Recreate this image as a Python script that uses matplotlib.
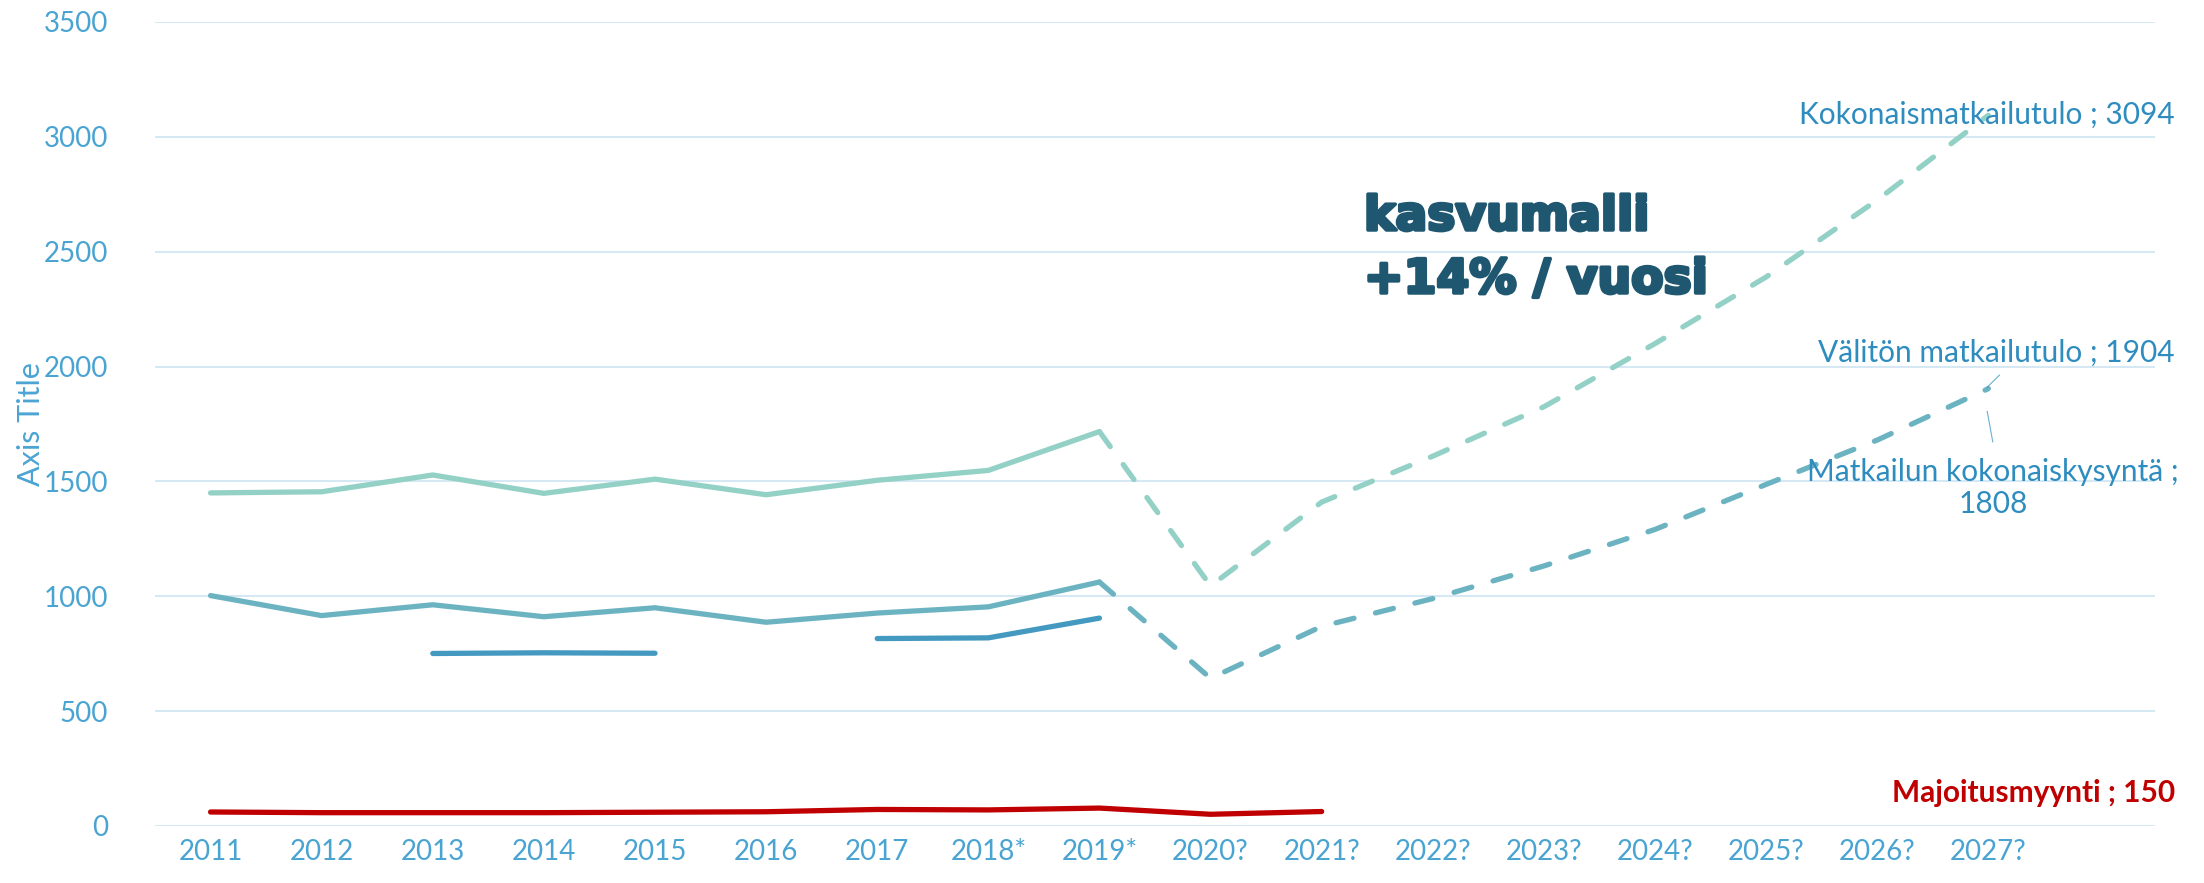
import numpy as np
import matplotlib
matplotlib.use("Agg")
import matplotlib.pyplot as plt
import matplotlib.patheffects as pe

years = ['2011', '2012', '2013', '2014', '2015', '2016', '2017', '2018*', '2019*',
         '2020?', '2021?', '2022?', '2023?', '2024?', '2025?', '2026?', '2027?', '']
kokonais = [1450, 1455, 1528, 1448, 1510, 1442, 1505, 1548, 1717,
            1045, 1410, 1610, 1825, 2100, 2390, 2725, 3094]
valiton = [1003, 916, 963, 911, 950, 887, 927, 954, 1062,
           643, 869, 990, 1132, 1291, 1487, 1680, 1904]
kysynta = [np.nan, np.nan, 751, 754, 752, np.nan, 816, 819, 905]
majoitus = [61, 58, 58, 58, 60, 62, 72, 70, 78, 51, 63]
end_values = {'Kokonaismatkailutulo': 3094, 'Välitön matkailutulo': 1904,
              'Matkailun kokonaiskysyntä': 1808, 'Majoitusmyynti': 150}
yticks = [0, 500, 1000, 1500, 2000, 2500, 3000, 3500]

c_mint = '#93d1c6'
c_teal = '#6cb3c2'
c_blue = '#4499c0'
c_red = '#c00000'
c_tick = '#4aa4d2'
c_lab = '#2e8cbf'
c_grid = '#d6e8f4'
c_big = '#1f5670'

plt.rcParams['font.family'] = ['Lato', 'DejaVu Sans']

fig = plt.figure(figsize=(22.04, 8.83), dpi=100)
ax = fig.add_axes([155/2204, 1-826/883, 2000/2204, 804/883])

x = np.arange(len(years))
lw = 3.8
split = 8  # index of 2019*

def draw(vals, color):
    v = np.array(vals, dtype=float)
    xs = x[:len(v)]
    ax.plot(xs[:split+1], v[:split+1], color=color, lw=lw, solid_capstyle='round',
            solid_joinstyle='round', zorder=3)
    if len(v) > split + 1:
        ax.plot(xs[split:], v[split:], color=color, lw=lw, dashes=(3.5, 4.2),
                dash_capstyle='round', dash_joinstyle='round', zorder=3)

draw(kokonais, c_mint)
draw(valiton, c_teal)
ax.plot(x[:len(kysynta)], kysynta, color=c_blue, lw=lw, solid_capstyle='round', zorder=3)
ax.plot(x[:len(majoitus)], majoitus, color=c_red, lw=lw, solid_capstyle='round', zorder=4)

ax.set_xlim(-0.5, len(years) - 0.5)
ax.set_ylim(0, 3500)
ax.set_yticks(yticks)
ax.set_xticks(x)
ax.set_xticklabels(years)
ax.grid(axis='y', color=c_grid, lw=1.5, zorder=0)
ax.set_axisbelow(True)
for s in ax.spines.values():
    s.set_visible(False)
ax.tick_params(axis='both', length=0, colors=c_tick, labelsize=20)
ax.tick_params(axis='y', pad=34)
ax.tick_params(axis='x', pad=9)
fig.text(31/2204, 1-424/883, 'Axis Title', rotation=90, ha='center', va='center',
         color=c_tick, fontsize=22)

fs = 21.5
xr = (2175 - 155) / 2000 * 18 - 0.5
ax.text(xr, end_values['Kokonaismatkailutulo'], f"Kokonaismatkailutulo ; {end_values['Kokonaismatkailutulo']}",
        ha='right', va='center', color=c_lab, fontsize=fs, clip_on=False)
ax.text(xr, 2060, f"Välitön matkailutulo ; {end_values['Välitön matkailutulo']}",
        ha='right', va='center', color=c_lab, fontsize=fs, clip_on=False)
ax.plot([16.1, 15.99], [1963, 1910], color=c_lab, lw=0.8, alpha=0.7, zorder=5)
ax.text(16.04, 1471, f"Matkailun kokonaiskysyntä ;\n{end_values['Matkailun kokonaiskysyntä']}",
        ha='center', va='center', color=c_lab, fontsize=fs, linespacing=1.2, clip_on=False)
ax.plot([16.04, 15.99], [1672, 1805], color=c_lab, lw=0.8, alpha=0.7, zorder=5)
ax.text(xr, 144, f"Majoitusmyynti ; {end_values['Majoitusmyynti']}",
        ha='right', va='center', color=c_red, fontsize=fs, fontweight='bold', clip_on=False)

big = dict(ha='left', va='baseline', color=c_big, fontsize=34, fontweight='bold',
           family='DejaVu Sans',
           path_effects=[pe.withStroke(linewidth=2.5, foreground=c_big)])
fig.text(1364/2204, 1-230/883, "kasvumalli", **big)
fig.text(1364/2204, 1-293/883, "+14% / vuosi", **big)

fig.savefig('out.png', dpi=100)
